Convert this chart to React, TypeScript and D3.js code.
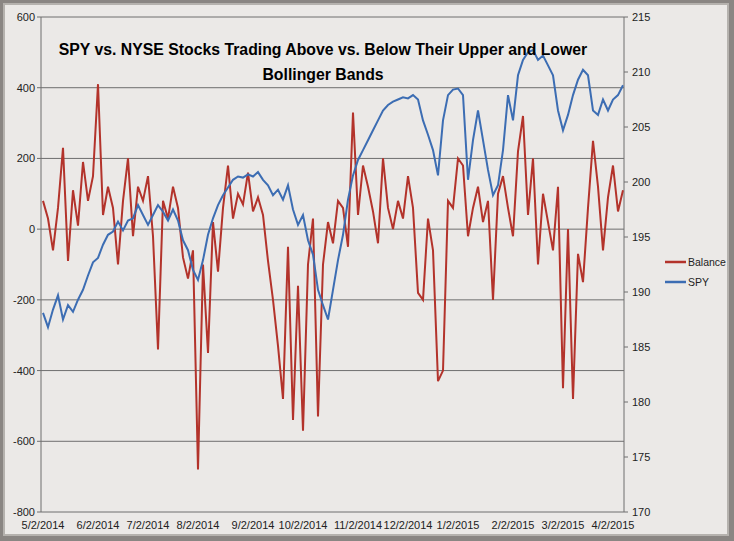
import * as d3 from "d3";

const balance = [80,30,-60,60,230,-90,110,10,190,80,150,410,40,120,60,-100,80,200,-20,120,80,150,-20,-340,80,30,120,60,-80,-140,-60,-680,-100,-350,20,-120,60,180,30,100,70,160,50,90,40,-90,-200,-330,-480,-50,-540,-160,-570,-100,30,-530,-100,20,-40,80,60,-50,330,40,180,120,50,-40,200,60,0,80,30,150,60,-180,-200,30,-60,-430,-400,80,60,200,180,-20,60,120,20,80,-200,100,150,60,-20,220,320,40,200,-100,100,20,-60,120,-450,0,-480,-70,-150,60,250,120,-60,90,180,50,110];
const spy = [188.1,186.8,188.4,189.7,187.5,188.8,188.2,189.3,190.2,191.5,192.7,193.1,194.3,195.2,195.5,196.4,195.6,196.5,196.7,197.9,197.0,196.1,197.0,197.9,197.3,196.5,197.5,196.5,194.7,193.8,192.0,191.1,192.9,195.2,196.7,197.9,198.8,199.5,200.2,200.5,200.4,200.7,200.5,200.9,200.2,199.7,198.8,199.3,198.4,199.7,197.5,196.1,197.0,194.7,193.4,190.2,188.8,187.5,190.2,192.9,195.2,198.4,200.6,202.0,202.9,203.8,204.7,205.6,206.5,207.0,207.3,207.5,207.7,207.6,207.9,207.5,205.6,204.3,202.9,200.6,205.6,207.9,208.4,208.5,207.9,200.2,203.8,206.5,203.8,201.1,198.8,199.7,202.9,207.9,205.6,209.7,211.1,211.8,212.0,211.1,211.5,210.6,209.7,206.5,204.7,206.1,207.9,209.3,210.2,209.7,206.5,206.1,207.5,206.5,207.5,207.9,208.8];
const dateLabels = ["5/2/2014","6/2/2014","7/2/2014","8/2/2014","9/2/2014","10/2/2014","11/2/2014","12/2/2014","1/2/2015","2/2/2015","3/2/2015","4/2/2015"];
const dateIdx = [0,11,21,31,42,52,63,73,83,94,104,114];
const leftTicks = [600,400,200,0,-200,-400,-600,-800];
const rightTicks = [215,210,205,200,195,190,185,180,175,170];

export default function App() {
  const W = 734, H = 541;
  const L = 41, R = 624, T = 17, B = 512;
  const x = d3.scaleLinear().domain([0, balance.length - 1]).range([L + 2, R - 1]);
  const yl = d3.scaleLinear().domain([-800, 600]).range([B, T]);
  const yr = d3.scaleLinear().domain([170, 215]).range([B, T]);
  const lineB = d3.line<number>().x((_, i) => x(i)).y((d) => yl(d));
  const lineS = d3.line<number>().x((_, i) => x(i)).y((d) => yr(d));
  const red = "#b3332b", blue = "#3c6db3";
  const font = "'Liberation Sans', Arial, sans-serif";
  return (
    <svg width={W} height={H} style={{ position: "absolute", left: 0, top: 0 }} fontFamily={font}>
      <rect x={0} y={0} width={W} height={H} fill="#8a8683" />
      <rect x={4} y={4} width={W - 10} height={H - 10} fill="#ebe9e7" stroke="#b5b2ae" strokeWidth={2} />
      {leftTicks.map((t) => (
        <g key={t}>
          <line x1={L} x2={R} y1={yl(t)} y2={yl(t)} stroke="#6e6e6e" strokeWidth={1} />
          <line x1={L - 4} x2={L} y1={yl(t)} y2={yl(t)} stroke="#6e6e6e" />
          <text x={L - 6} y={yl(t) + 4} textAnchor="end" fontSize={11} fill="#222">{t}</text>
        </g>
      ))}
      {rightTicks.map((t) => (
        <g key={t}>
          <line x1={R} x2={R + 4} y1={yr(t)} y2={yr(t)} stroke="#6e6e6e" />
          <text x={R + 8} y={yr(t) + 4} fontSize={11} fill="#222">{t}</text>
        </g>
      ))}
      <line x1={L} x2={L} y1={T} y2={B} stroke="#6e6e6e" />
      <line x1={R} x2={R} y1={T} y2={B} stroke="#6e6e6e" />
      {dateIdx.map((d, i) => (
        <text key={i} x={x(d)} y={529} textAnchor="middle" fontSize={11} fill="#222">{dateLabels[i]}</text>
      ))}
      <path d={lineB(balance) ?? ""} fill="none" stroke={red} strokeWidth={2} />
      <path d={lineS(spy) ?? ""} fill="none" stroke={blue} strokeWidth={2} />
      <text x={323} y={55} textAnchor="middle" fontSize={15.8} fontWeight="bold" fill="#000">SPY vs. NYSE Stocks Trading Above vs. Below Their Upper and Lower</text>
      <text x={323} y={80} textAnchor="middle" fontSize={15.8} fontWeight="bold" fill="#000">Bollinger Bands</text>
      <line x1={665} x2={686} y1={262} y2={262} stroke={red} strokeWidth={2.5} />
      <text x={688} y={266} fontSize={10.5} fill="#222">Balance</text>
      <line x1={665} x2={686} y1={282} y2={282} stroke={blue} strokeWidth={2.5} />
      <text x={688} y={286} fontSize={10.5} fill="#222">SPY</text>
    </svg>
  );
}
